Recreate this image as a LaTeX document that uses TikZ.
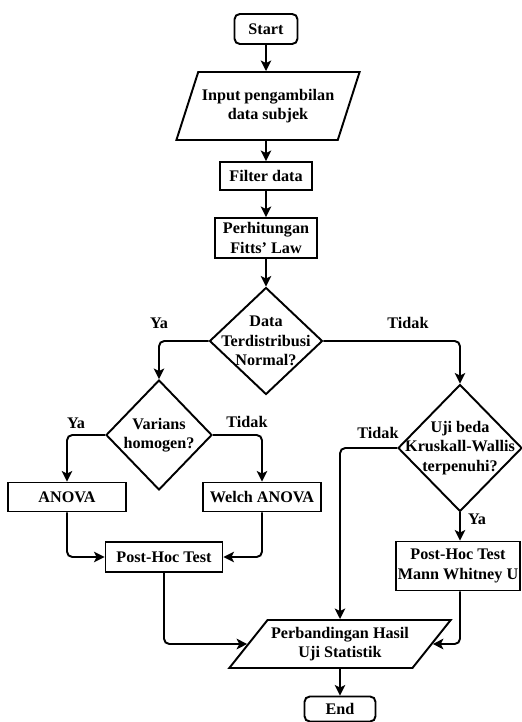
\documentclass[tikz,border=0pt]{standalone}
\usepackage{fontspec}
\setmainfont{Liberation Serif}
\usetikzlibrary{arrows.meta, positioning, shapes.geometric}

\begin{document}
\begin{tikzpicture}[
    x=0.02cm, y=-0.02cm,
    font=\fontsize{9.2}{11}\selectfont\bfseries,
    line width=1.1pt,
    box/.style={rectangle, draw, align=center, inner sep=2pt},
    term/.style={rectangle, rounded corners=3pt, draw, align=center, minimum height=0.6cm},
    io/.style={trapezium, trapezium stretches body, draw, align=center, inner sep=2pt},
    decision/.style={diamond, draw, inner sep=0pt},
    lbl/.style={inner sep=1pt},
    arrow/.style={-{Stealth[length=6pt,width=6pt,inset=1.5pt]}, rounded corners=3pt}]

    \useasboundingbox (0,0) rectangle (521,722);

    % main column
    \node[term, minimum width=1.26cm] (start) at (266,29) {Start};
    \node[io, trapezium left angle=62, trapezium right angle=118,
        minimum width=3.6cm, minimum height=1.36cm] (input) at (268,106) {Input pengambilan\\data subjek};
    \node[box, minimum width=1.84cm, minimum height=0.56cm] (filter) at (266,176) {Filter data};
    \node[box, minimum width=2.04cm, minimum height=0.8cm] (fitts) at (266,238) {Perhitungan\\Fitts' Law};
    \node[decision, minimum width=2.26cm, minimum height=2.14cm,
        label={[align=center]center:Data\\Terdistribusi\\Normal?}] (normal) at (266,341) {};

    % parametric branch
    \node[decision, minimum width=2.12cm, minimum height=2.2cm,
        label={[align=center]center:Varians\\homogen?}] (varians) at (159,435) {};
    \node[box, minimum width=2.36cm, minimum height=0.58cm] (anova) at (67,497) {ANOVA};
    \node[box, minimum width=2.36cm, minimum height=0.58cm] (welch) at (262,497) {Welch ANOVA};
    \node[box, minimum width=2.34cm, minimum height=0.6cm] (posthoc) at (164,557) {Post-Hoc Test};

    % non-parametric branch
    \node[decision, minimum width=2.48cm, minimum height=2.54cm,
        label={[align=center]center:Uji beda\\Kruskall-Wallis\\terpenuhi?}] (kruskal) at (460,448) {};
    \node[box, inner sep=1pt, minimum width=2.48cm, minimum height=0.98cm] (mann) at (458,566) {Post-Hoc Test\\Mann Whitney U};

    \node[io, trapezium left angle=47, trapezium right angle=133,
        minimum width=4.3cm, minimum height=0.96cm] (hasil) at (340,644) {Perbandingan Hasil\\Uji Statistik};
    \node[term, minimum width=1.42cm, minimum height=0.5cm] (end) at (340,709) {End};

    % labels
    \node[lbl] (ya1) at (159,323) {Ya};
    \node[lbl] (tidak1) at (408,323) {Tidak};
    \node[lbl] (ya2) at (76,423) {Ya};
    \node[lbl] (tidak2) at (247,422) {Tidak};
    \node[lbl] (tidak3) at (378,433) {Tidak};
    \node[lbl] (ya3) at (477,519) {Ya};

    % connectors
    \draw[arrow] (start) -- (start |- input.north);
    \draw[arrow] (input.south -| filter) -- (filter);
    \draw[arrow] (filter) -- (fitts);
    \draw[arrow] (fitts) -- (normal);
    \draw[arrow] (normal.west) -| (varians.north);
    \draw[arrow] (normal.east) -| (kruskal.north);
    \draw[arrow] (varians.west) -| (anova.north);
    \draw[arrow] (varians.east) -| (welch.north);
    \draw[arrow] (anova.south) |- (posthoc.west);
    \draw[arrow] (welch.south) |- (posthoc.east);
    \draw[arrow] (posthoc.south) |- (hasil.left side);
    \draw[arrow] (kruskal.west) -| (hasil.north);
    \draw[arrow] (kruskal.south) -- (kruskal.south |- mann.north);
    \draw[arrow] (mann.south -| kruskal.south) |- (hasil.right side);
    \draw[arrow] (hasil) -- (end);
\end{tikzpicture}
\end{document}
